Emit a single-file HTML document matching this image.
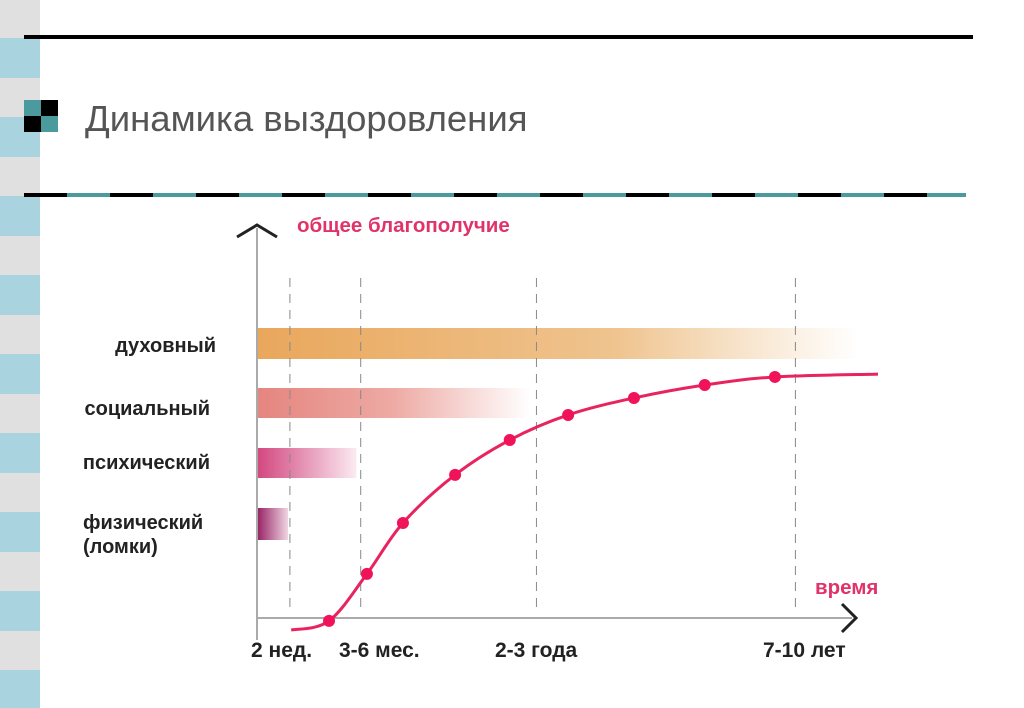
<!DOCTYPE html>
<html><head><meta charset="utf-8"><style>
html,body{margin:0;width:1024px;height:708px;overflow:hidden;background:#fff;font-family:"Liberation Sans",sans-serif}
svg{display:block}
</style></head><body>
<svg id="s" width="1024" height="708" xmlns="http://www.w3.org/2000/svg" style="overflow:hidden">
<defs>
<linearGradient id="g1" x1="0" x2="1"><stop offset="0" stop-color="#e9a75c"/><stop offset="0.6" stop-color="#efc48f"/><stop offset="1" stop-color="#fff" stop-opacity="0.9"/></linearGradient>
<linearGradient id="g2" x1="0" x2="1"><stop offset="0" stop-color="#e5857f"/><stop offset="0.5" stop-color="#eeaaa4"/><stop offset="1" stop-color="#fff"/></linearGradient>
<linearGradient id="g3" x1="0" x2="1"><stop offset="0" stop-color="#d2477f"/><stop offset="1" stop-color="#fbeaf1"/></linearGradient>
<linearGradient id="g4" x1="0" x2="1"><stop offset="0" stop-color="#962063"/><stop offset="1" stop-color="#efd6e3"/></linearGradient>
</defs>
<g id="strip"></g>
<rect x="24" y="35" width="949" height="4" fill="#000"/>
<g>
<rect x="24" y="100" width="17" height="16" fill="#4a9a9e"/><rect x="41" y="100" width="17" height="16" fill="#000"/>
<rect x="24" y="116" width="17" height="16" fill="#000"/><rect x="41" y="116" width="17" height="16" fill="#4a9a9e"/>
</g>
<text x="85" y="131" font-size="36.5" fill="#555">Динамика выздоровления</text>
<g id="dash"></g>
<g id="chart"></g>
</svg>
<script>
const ns="http://www.w3.org/2000/svg";
function mk(p,t,a){const e=document.createElementNS(ns,t);for(const k in a)e.setAttribute(k,a[k]);p.appendChild(e);return e;}
const strip=document.getElementById('strip');
for(let i=0;i<9;i++){const r=mk(strip,'rect',{x:0,y:-1+i*79,width:40,height:Math.min(40,708-(-1+i*79)),fill:'#e0e0e0'});

const by=38+i*79;
const b=mk(strip,'rect',{x:0,y:by,width:40,height:Math.min(40,708-by),fill:'#a9d3df'});
}
const dash=document.getElementById('dash');
for(let i=0,x=24;x<966;i++,x+=43){const r=mk(dash,'rect',{x:x,y:193,width:Math.min(43,966-x),height:4,fill:i%2?'#4a9a9e':'#000'});
}

// chart data
const barLabels=['духовный','социальный','психический','физический'];
const barEnds=[97,44,16,5];
const tickLabels=['2 нед.','3-6 мес.','2-3 года','7-10 лет'];
const tickX=[5.3,16.7,45,86.7];
const curveX=[5.5,11.6,17.7,23.5,31.9,40.7,50.1,60.7,72.1,83.4,100];
const curveY=[-4.2,-1,15.3,33,49.7,61.8,70.5,76.4,80.9,83.7,84.7];

const X0=257,XW=621,Y0=618,YH=288;
const sx=v=>X0+v/100*XW, sy=v=>Y0-v/100*YH;
const c=document.getElementById('chart');
const barY=[328,388,448,508],barH=[31,30,30,32],grads=['g1','g2','g3','g4'];
barLabels.forEach((l,i)=>{
 const r=mk(c,'rect',{x:X0,y:barY[i],width:sx(barEnds[i])-X0,height:barH[i],fill:'url(#'+grads[i]+')'});
 
});
const lab=[[216,352,'end'],[210,415,'end'],[210,469,'end'],[83,529,'start']];
barLabels.forEach((l,i)=>{const t=mk(c,'text',{x:lab[i][0],y:lab[i][1],'text-anchor':lab[i][2],'font-size':20,'font-weight':'bold',fill:'#222'});t.textContent=l;
 });
const t5=mk(c,'text',{x:83,y:553,'font-size':20,'font-weight':'bold',fill:'#222'});t5.textContent='(ломки)';

tickX.forEach((v,i)=>{const l=mk(c,'line',{x1:sx(v),x2:sx(v),y1:278,y2:612,stroke:'#888','stroke-width':1,'stroke-dasharray':'9,7'});
 });
const tpos=[251,339,495,763];
tickLabels.forEach((s,i)=>{const t=mk(c,'text',{x:tpos[i],y:657,'font-size':21,'font-weight':'bold',fill:'#222'});t.textContent=s;
 });
const ya=mk(c,'line',{x1:X0,x2:X0,y1:228,y2:640,stroke:'#aaa','stroke-width':2});

const xa=mk(c,'line',{x1:X0,x2:852,y1:618,y2:618,stroke:'#aaa','stroke-width':2});

const ar1=mk(c,'path',{d:'M237 237 L257 225 L277 237',fill:'none',stroke:'#222','stroke-width':3});

const ar2=mk(c,'path',{d:'M842 604 L856 618 L842 632',fill:'none',stroke:'#222','stroke-width':3});

const yt=mk(c,'text',{x:297,y:232,'font-size':20.5,'font-weight':'bold',fill:'#e0336a'});yt.textContent='общее благополучие';

const xt=mk(c,'text',{x:815,y:594,'font-size':20.5,'font-weight':'bold',fill:'#e0336a'});xt.textContent='время';

const P=curveX.map((v,i)=>[sx(v),sy(curveY[i])]);
let d='M'+P[0][0]+' '+P[0][1];
for(let i=0;i<P.length-1;i++){const p0=P[Math.max(0,i-1)],p1=P[i],p2=P[i+1],p3=P[Math.min(P.length-1,i+2)];
 d+=' C'+(p1[0]+(p2[0]-p0[0])/6)+' '+(p1[1]+(p2[1]-p0[1])/6)+' '+(p2[0]-(p3[0]-p1[0])/6)+' '+(p2[1]-(p3[1]-p1[1])/6)+' '+p2[0]+' '+p2[1];}
const cv=mk(c,'path',{d:d,fill:'none',stroke:'#e8245f','stroke-width':3});

for(let i=1;i<P.length-1;i++){const m=mk(c,'circle',{cx:P[i][0],cy:P[i][1],r:6,fill:'#f0135a'});
 }
</script>
</body></html>
